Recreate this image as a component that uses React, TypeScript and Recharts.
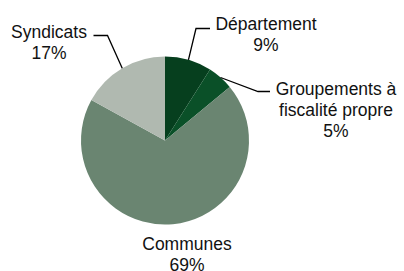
import React from "react";
import { PieChart, Pie, Cell } from "recharts";

// Share of each level in the total (percent)
const categories = [
  "Département",
  "Groupements à fiscalité propre",
  "Communes",
  "Syndicats",
];
const shares = [9, 5, 69, 17];
const labelLines = [
  ["Département"],
  ["Groupements à", "fiscalité propre"],
  ["Communes"],
  ["Syndicats"],
];

const colors = ["#063f1e", "#0a5028", "#6a8571", "#b0b9b0"];

// where each label sits and how its leader line bends
const labelLayout = [
  { x: 266, y: 30, elbow: [196, 28.5], end: [210, 28.5] },
  { x: 336, y: 95, elbow: [258, 91.5], end: [270, 91.5] },
  { x: 187, y: 250, elbow: null, end: null },
  { x: 49, y: 38, elbow: [107.5, 35.5], end: [93.5, 35.5] },
];

const RADIAN = Math.PI / 180;
const LINE_H = 21;

const renderLabel = (props: any) => {
  const { cx, cy, midAngle, outerRadius, index, value } = props;
  const lay = labelLayout[index];
  const sx = cx + outerRadius * Math.cos(-midAngle * RADIAN);
  const sy = cy + outerRadius * Math.sin(-midAngle * RADIAN);
  const lines = [...labelLines[index], `${value}%`];
  return (
    <g key={`lbl-${index}`}>
      {lay.elbow && lay.end && (
        <polyline
          points={`${sx},${sy} ${lay.elbow[0]},${lay.elbow[1]} ${lay.end[0]},${lay.end[1]}`}
          fill="none"
          stroke="#000"
          strokeWidth={1.3}
        />
      )}
      {lines.map((t, i) => (
        <text
          key={i}
          x={lay.x}
          y={lay.y + i * LINE_H}
          textAnchor="middle"
          fill="#111"
          fontSize={17.5}
          fontFamily="'Liberation Sans', Arial, Helvetica, sans-serif"
        >
          {t}
        </text>
      ))}
    </g>
  );
};

const data = categories.map((name, i) => ({ name, value: shares[i] }));

export default function App() {
  return (
    <div style={{ position: "absolute", left: 0, top: 0, background: "#fff" }}>
      <PieChart
        width={404}
        height={271}
        margin={{ top: 0, right: 0, bottom: 0, left: 0 }}
      >
        <Pie
          data={data}
          dataKey="value"
          nameKey="name"
          cx={165}
          cy={140.5}
          outerRadius={84}
          startAngle={90}
          endAngle={-270}
          stroke="none"
          label={renderLabel}
          labelLine={false}
          isAnimationActive={false}
        >
          {data.map((d, i) => (
            <Cell key={d.name} fill={colors[i]} />
          ))}
        </Pie>
      </PieChart>
    </div>
  );
}
